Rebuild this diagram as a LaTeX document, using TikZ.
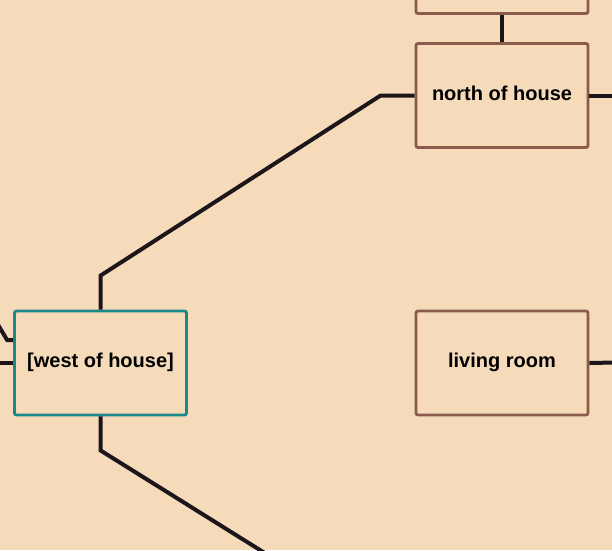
\documentclass[tikz,border=0pt]{standalone}
\usepackage{fontspec}
\setmainfont{Liberation Sans}
\usetikzlibrary{calc}
\definecolor{peach}{HTML}{F6DBBB}
\definecolor{roombrown}{HTML}{8A5A4A}
\definecolor{hereteal}{HTML}{1B8787}
\definecolor{ink}{HTML}{1C1519}

\begin{document}
\begin{tikzpicture}[x=1pt,y=-1pt,
    room/.style={draw=roombrown, line width=2.8pt, rounded corners=2pt, fill=peach,
      minimum width=172pt, minimum height=104pt, inner sep=0pt,
      text height=14pt, text depth=5pt,
      font=\fontsize{20}{24}\selectfont\bfseries},
    here/.style={room, draw=hereteal},
    way/.style={draw=ink, line width=4pt}]
      \fill[peach] (0,0) rectangle (612,550);
      \clip (0,0) rectangle (612,550);
      \coordinate (offnw) at (-22,291);
      \coordinate (offw) at (-30,363);
      \coordinate (offse) at (340,600);
      \coordinate (offne) at (640,95.5);
      \coordinate (offe) at (640,362);
      \node[room] (above) at (502,-38.5) {};
      \node[room] (north) at (502,95.5) {north of house};
      \node[here] (west) at (100.5,363) {[west of house]};
      \node[room] (living) at (502,363) {living room};
      \draw[way] (above) -- (north);
      \draw[way] (west.north) -- ++(0,-34) -- ($(north.west)+(-34,0)$) -- (north.west);
      \draw[way] (west.south) -- ++(0,34) -- (offse);
      \draw[way] ($(west.west)+(0,-23)$) -- ++(-6,0) -- (offnw);
      \draw[way] (west.west) -- (offw);
      \draw[way] (north.east) -- (offne);
      \draw[way] (living.east) -- (offe);
    \end{tikzpicture}
\end{document}
